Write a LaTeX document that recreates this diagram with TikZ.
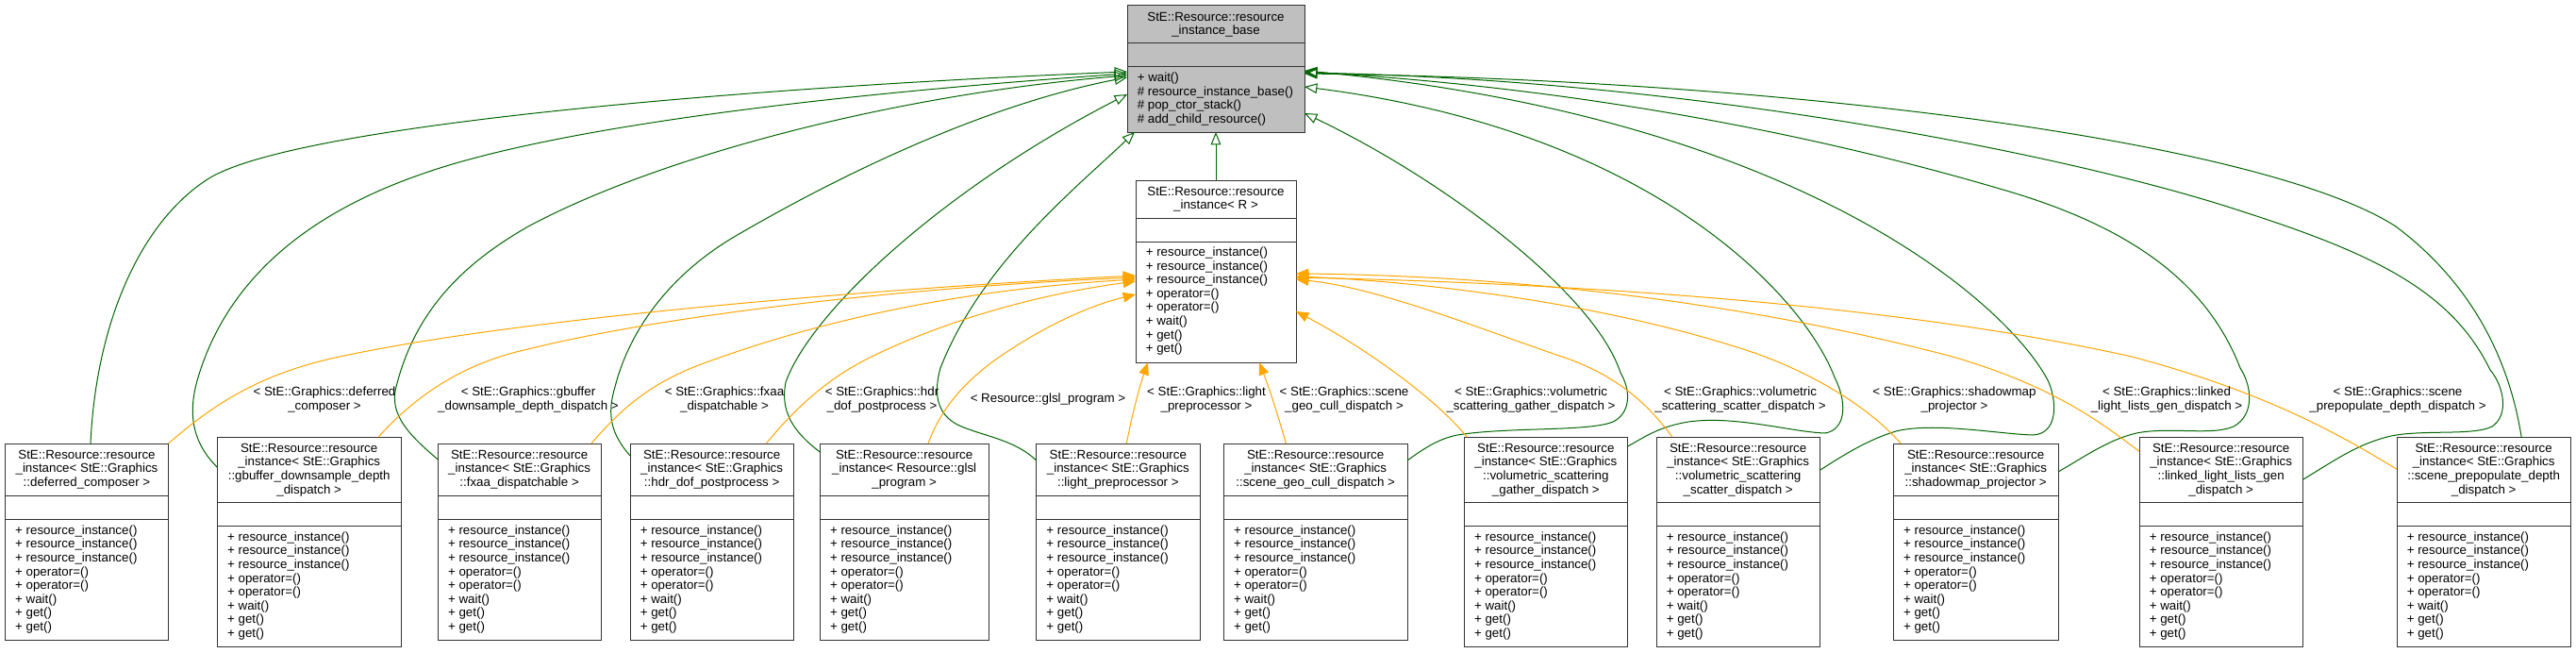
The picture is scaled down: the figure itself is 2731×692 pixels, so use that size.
\documentclass[tikz,border=0pt]{standalone}
\usepackage{fontspec}
\setmainfont{Liberation Sans}
\usetikzlibrary{arrows.meta}

\definecolor{inheritgreen}{HTML}{006400}
\definecolor{templorange}{HTML}{FFA500}

\tikzset{
  classbox/.style={draw=black!80, line width=0.75pt, fill=white, anchor=north west, inner sep=0pt, outer sep=0pt},
  boxline/.style={draw=black!80, line width=0.75pt},
  classtitle/.style={align=center, inner sep=0pt, font=\fontsize{10}{10.95}\selectfont},
  classops/.style={align=left, anchor=base west, inner sep=0pt, font=\fontsize{10}{10.95}\selectfont},
  edgelabel/.style={align=center, inner sep=0pt, font=\fontsize{10}{10.95}\selectfont},
  inherit/.style={draw=inheritgreen, line width=0.75pt, -{Triangle[open, length=10pt, width=8pt]}},
  templ/.style={draw=templorange, line width=0.75pt, -{Triangle[length=10pt, width=8pt]}},
}

% members shared by every instantiation
\newcommand{\opslist}{+ resource\_instance()\\+ resource\_instance()\\+ resource\_instance()\\+ operator=()\\+ operator=()\\+ wait()\\+ get()\\+ get()}

% name, left, right, title rows (3 or 4), title
\newcommand{\instbox}[5]{%
  \ifnum#4=3
    \def\ibTop{470}\def\ibSepA{525.3}\def\ibSepB{550.7}\def\ibBot{678.3}%
  \else
    \def\ibTop{463.3}\def\ibSepA{532.7}\def\ibSepB{557.7}\def\ibBot{685.7}%
  \fi
  \node[classbox, minimum width={(#3-#2)*0.75pt}, minimum height={(\ibBot-\ibTop)*0.75pt}] (#1) at (#2,\ibTop) {};
  \draw[boxline] (#2,\ibSepA) -- (#3,\ibSepA) (#2,\ibSepB) -- (#3,\ibSepB);
  \node[classtitle] (#1-name) at ({(#2+#3)/2},{(\ibTop+\ibSepA)/2}) {#5};
  % base of a multi-line node sits on its last line
  \node[classops] (#1-ops) at ({#2+10.5},{\ibSepB+15.5+7*14.6}) {\opslist};
}

\begin{document}
\begin{tikzpicture}[x=0.75pt, y=-0.75pt]
    \path[fill=white, use as bounding box] (0,0) rectangle (2731,692);

    % Base class
    \node[classbox, fill=black!25, minimum width={188*0.75pt}, minimum height={134*0.75pt}] (base) at (1195,6) {};
    \draw[boxline] (1195,46) -- (1383,46) (1195,71) -- (1383,71);
    \node[classtitle] (base-name) at (1289,26) {StE::Resource::resource\\\_instance\_base};
    \node[classops] (base-ops) at (1205.5,{86.5+3*14.6}) {+ wait()\\\# resource\_instance\_base()\\\# pop\_ctor\_stack()\\\# add\_child\_resource()};

    % Template
    \node[classbox, minimum width={170*0.75pt}, minimum height={193*0.75pt}] (mid) at (1204,191) {};
    \draw[boxline] (1204,231) -- (1374,231) (1204,256) -- (1374,256);
    \node[classtitle] (mid-name) at (1289,211) {StE::Resource::resource\\\_instance< R >};
    \node[classops] (mid-ops) at (1214.5,{271.5+7*14.6}) {\opslist};

    % Instantiations
    \instbox{b1}{5.4}{178.6}{3}{StE::Resource::resource\\\_instance< StE::Graphics\\::deferred\_composer >}
    \instbox{b2}{230.4}{425}{4}{StE::Resource::resource\\\_instance< StE::Graphics\\::gbuffer\_downsample\_depth\\\_dispatch >}
    \instbox{b3}{464.3}{637}{3}{StE::Resource::resource\\\_instance< StE::Graphics\\::fxaa\_dispatchable >}
    \instbox{b4}{668}{841.3}{3}{StE::Resource::resource\\\_instance< StE::Graphics\\::hdr\_dof\_postprocess >}
    \instbox{b5}{869.3}{1048}{3}{StE::Resource::resource\\\_instance< Resource::glsl\\\_program >}
    \instbox{b6}{1098.7}{1272}{3}{StE::Resource::resource\\\_instance< StE::Graphics\\::light\_preprocessor >}
    \instbox{b7}{1297.3}{1492}{3}{StE::Resource::resource\\\_instance< StE::Graphics\\::scene\_geo\_cull\_dispatch >}
    \instbox{b8}{1552.3}{1725.3}{4}{StE::Resource::resource\\\_instance< StE::Graphics\\::volumetric\_scattering\\\_gather\_dispatch >}
    \instbox{b9}{1756}{1929.3}{4}{StE::Resource::resource\\\_instance< StE::Graphics\\::volumetric\_scattering\\\_scatter\_dispatch >}
    \instbox{b10}{2007.3}{2182}{3}{StE::Resource::resource\\\_instance< StE::Graphics\\::shadowmap\_projector >}
    \instbox{b11}{2268}{2441.3}{4}{StE::Resource::resource\\\_instance< StE::Graphics\\::linked\_light\_lists\_gen\\\_dispatch >}
    \instbox{b12}{2541}{2725.3}{4}{StE::Resource::resource\\\_instance< StE::Graphics\\::scene\_prepopulate\_depth\\\_dispatch >}

    % Inheritance, left side
    \draw[inherit] (mid.north) -- (base.south);
    \draw[inherit] ([shift={(4,0)}]b1.north) .. controls (102,340) and (150,235) .. (220,190) .. controls (310,132) and (800,92) .. ([shift={(0,70)}]base.north west);
    \draw[inherit] ([shift={(0,32)}]b2.north west) .. controls (205,470) and (198,440) .. (210,400) .. controls (240,300) and (320,230) .. (440,187) .. controls (600,128) and (950,95) .. ([shift={(0,72)}]base.north west);
    \draw[inherit] ([shift={(0,17)}]b3.north west) .. controls (435,462) and (412,440) .. (420,410) .. controls (440,330) and (490,280) .. (560,240) .. controls (700,165) and (950,100) .. ([shift={(0,74)}]base.north west);
    \draw[inherit] ([shift={(0,13)}]b4.north west) .. controls (648,460) and (643,440) .. (652,410) .. controls (670,340) and (720,285) .. (780,250) .. controls (900,180) and (1050,110) .. ([shift={(0,76)}]base.north west);
    \draw[inherit] ([shift={(0,9)}]b5.north west) .. controls (840,457) and (827,435) .. (833,405) .. controls (860,330) and (1000,200) .. ([shift={(0,94)}]base.north west);
    \draw[inherit] ([shift={(0,18)}]b6.north west) .. controls (1075,465) and (1040,462) .. (1015,450) .. controls (992,438) and (990,415) .. (997,390) .. controls (1040,280) and (1140,200) .. ([shift={(8,0)}]base.south west);

    % Inheritance, right side
    \draw[inherit] ([shift={(0,18)}]b7.north east) .. controls (1510,475) and (1525,465) .. (1545,461) .. controls (1600,452) and (1690,458) .. (1712,446) .. controls (1730,435) and (1728,412) .. (1718,395) .. controls (1690,310) and (1530,190) .. ([shift={(0,114)}]base.north east);
    \draw[inherit] ([shift={(0,10)}]b8.north east) .. controls (1745,462) and (1760,452) .. (1790,447) .. controls (1840,440) and (1900,458) .. (1935,459) .. controls (1958,455) and (1958,425) .. (1945,400) .. controls (1915,320) and (1760,140) .. ([shift={(0,86)}]base.north east);
    \draw[inherit] ([shift={(0,35)}]b9.north east) .. controls (1955,482) and (1980,466) .. (2010,457) .. controls (2050,447) and (2120,460) .. (2155,461) .. controls (2180,460) and (2182,430) .. (2172,405) .. controls (2135,330) and (1920,125) .. ([shift={(0,69)}]base.north east);
    \draw[inherit] ([shift={(0,30)}]b10.north east) .. controls (2210,484) and (2235,466) .. (2265,459) .. controls (2300,452) and (2345,462) .. (2368,452) .. controls (2390,440) and (2388,410) .. (2375,390) .. controls (2340,300) and (2260,240) .. (2120,200) .. controls (1950,150) and (1700,95) .. ([shift={(0,70)}]base.north east);
    \draw[inherit] ([shift={(0,45)}]b11.north east) .. controls (2475,488) and (2500,470) .. (2535,462) .. controls (2570,455) and (2622,462) .. (2642,452) .. controls (2660,440) and (2655,410) .. (2640,392) .. controls (2600,310) and (2520,270) .. (2380,225) .. controls (2200,165) and (1800,85) .. ([shift={(0,71)}]base.north east);
    \draw[inherit] ([shift={(40,0)}]b12.north) .. controls (2660,380) and (2620,300) .. (2540,240) .. controls (2400,150) and (1900,85) .. ([shift={(0,72)}]base.north east);

    % Template arguments
    \draw[templ] (b1.north east) .. controls (230,425) and (280,395) .. (360,378) .. controls (560,335) and (950,305) .. ([shift={(0,101)}]mid.north west);
    \draw[templ] ([shift={(-24,0)}]b2.north east) .. controls (440,420) and (490,385) .. (560,370) .. controls (700,335) and (950,305) .. ([shift={(0,103)}]mid.north west);
    \draw[templ] ([shift={(-10,0)}]b3.north east) .. controls (665,425) and (700,400) .. (760,380) .. controls (900,330) and (1050,305) .. ([shift={(0,105)}]mid.north west);
    \draw[templ] ([shift={(-29,0)}]b4.north east) .. controls (845,430) and (880,400) .. (920,380) .. controls (1000,340) and (1100,312) .. ([shift={(0,107)}]mid.north west);
    \draw[templ] ([shift={(-64,0)}]b5.north east) .. controls (995,440) and (1015,410) .. (1057,380) .. controls (1100,350) and (1150,325) .. ([shift={(0,121)}]mid.north west);
    \draw[templ] ([shift={(9,0)}]b6.north) .. controls (1200,440) and (1208,410) .. ([shift={(13,0)}]mid.south west);
    \draw[templ] ([shift={(66,0)}]b7.north west) .. controls (1355,440) and (1345,410) .. ([shift={(131,0)}]mid.south west);
    \draw[templ] ([shift={(3,0)}]b8.north west) .. controls (1525,425) and (1450,370) .. ([shift={(0,139)}]mid.north east);
    \draw[templ] ([shift={(17,0)}]b9.north west) .. controls (1745,425) and (1710,395) .. (1650,376) .. controls (1560,345) and (1460,305) .. ([shift={(0,105)}]mid.north east);
    \draw[templ] ([shift={(8,0)}]b10.north west) .. controls (1980,430) and (1920,395) .. (1860,374) .. controls (1700,320) and (1500,298) .. ([shift={(0,102)}]mid.north east);
    \draw[templ] ([shift={(0,15)}]b11.north west) .. controls (2230,450) and (2180,410) .. (2070,378) .. controls (1850,320) and (1600,292) .. ([shift={(0,99)}]mid.north east);
    \draw[templ] ([shift={(0,34)}]b12.north west) .. controls (2480,460) and (2400,415) .. (2260,378) .. controls (2000,320) and (1650,300) .. ([shift={(0,103)}]mid.north east);

    % Labels
    \node[edgelabel] (l1) at (344,423.5) {< StE::Graphics::deferred\\\_composer >};
    \node[edgelabel] (l2) at (560,423.5) {< StE::Graphics::gbuffer\\\_downsample\_depth\_dispatch >};
    \node[edgelabel] (l3) at (768,423.5) {< StE::Graphics::fxaa\\\_dispatchable >};
    \node[edgelabel] (l4) at (935,423.5) {< StE::Graphics::hdr\\\_dof\_postprocess >};
    \node[edgelabel] (l5) at (1111,423) {< Resource::glsl\_program >};
    \node[edgelabel] (l6) at (1279,423.5) {< StE::Graphics::light\\\_preprocessor >};
    \node[edgelabel] (l7) at (1425,423.5) {< StE::Graphics::scene\\\_geo\_cull\_dispatch >};
    \node[edgelabel] (l8) at (1623,423.5) {< StE::Graphics::volumetric\\\_scattering\_gather\_dispatch >};
    \node[edgelabel] (l9) at (1845,423.5) {< StE::Graphics::volumetric\\\_scattering\_scatter\_dispatch >};
    \node[edgelabel] (l10) at (2072,423.5) {< StE::Graphics::shadowmap\\\_projector >};
    \node[edgelabel] (l11) at (2297,423.5) {< StE::Graphics::linked\\\_light\_lists\_gen\_dispatch >};
    \node[edgelabel] (l12) at (2542,423.5) {< StE::Graphics::scene\\\_prepopulate\_depth\_dispatch >};
\end{tikzpicture}
\end{document}
